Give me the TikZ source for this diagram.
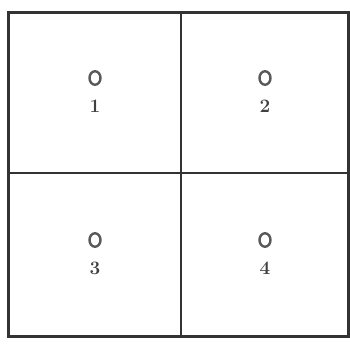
\documentclass[tikz,border=0pt]{standalone}
\usepackage{fontspec}
\usetikzlibrary{shapes.geometric}
\begin{document}
\begin{tikzpicture}[x=1pt,y=-1pt,
  frame/.style={line width=2.4pt,draw=black!80},
  ring/.style={ellipse,draw=black!65,line width=2.4pt,minimum width=11pt,minimum height=13.5pt,inner sep=0pt},
  num/.style={font=\bfseries\fontsize{19}{19}\selectfont,text=black!75,inner sep=0pt}]
\useasboundingbox (0,0) rectangle (350,347);
\coordinate (tl) at (8.5,12.5);
\coordinate (br) at (348.5,336.5);
\draw[frame] (tl) rectangle (br);
\coordinate (vt) at (181,12.5);
\coordinate (vb) at (181,336.5);
\coordinate (hl) at (8.5,173);
\coordinate (hr) at (348.5,173);
\draw[frame] (vt) -- (vb);
\draw[frame] (hl) -- (hr);
\node[ring] (c1) at (95,78) {};
\node[num] (n1) at (95,106) {1};
\node[ring] (c2) at (265,78) {};
\node[num] (n2) at (265,106) {2};
\node[ring] (c3) at (95,240) {};
\node[num] (n3) at (95,268) {3};
\node[ring] (c4) at (265,240) {};
\node[num] (n4) at (265,268) {4};
\end{tikzpicture}
\end{document}
